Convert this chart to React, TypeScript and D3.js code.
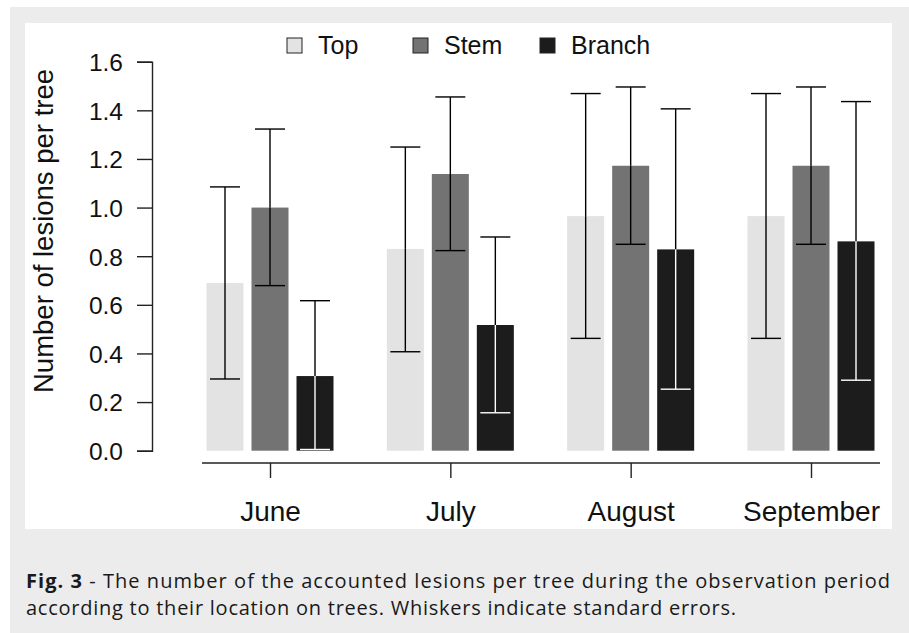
import React, { useEffect, useRef } from "react";
import * as d3 from "d3";

const months = ["June", "July", "August", "September"];
const series = ["Top", "Stem", "Branch"];
const seriesColors = ["#e3e3e3", "#737373", "#1c1c1c"];

// mean values per month
const topValues = [0.69, 0.83, 0.965, 0.965];
const stemValues = [1.0, 1.138, 1.172, 1.172];
const branchValues = [0.307, 0.517, 0.828, 0.861];

// whisker ends (upper / lower)
const topUpper = [1.085, 1.249, 1.469, 1.469];
const topLower = [0.295, 0.407, 0.462, 0.462];
const stemUpper = [1.323, 1.455, 1.496, 1.496];
const stemLower = [0.679, 0.823, 0.849, 0.849];
const branchUpper = [0.617, 0.879, 1.406, 1.436];
const branchLower = [0.005, 0.156, 0.253, 0.29];

const yTicks = [0, 0.2, 0.4, 0.6, 0.8, 1.0, 1.2, 1.4, 1.6];

const captionBold = "Fig. 3";
const captionLine1 = " - The number of the accounted lesions per tree during the observation period";
const captionLine2 = "according to their location on trees. Whiskers indicate standard errors.";

export default function App() {
  const svgRef = useRef<SVGSVGElement>(null);

  useEffect(() => {
    const width = 909;
    const height = 633;
    const svg = d3.select(svgRef.current).attr("width", width).attr("height", height);
    svg.selectAll("*").remove();

    const font = "'Liberation Sans', Arial, sans-serif";

    // frame
    svg.append("rect").attr("width", width).attr("height", height).attr("fill", "#ffffff");
    svg.append("rect").attr("x", 10).attr("y", 7).attr("width", 899).attr("height", 626).attr("fill", "#ececec");
    svg.append("rect").attr("x", 25).attr("y", 23).attr("width", 867).attr("height", 506).attr("fill", "#ffffff");

    const y = d3.scaleLinear().domain([0, 1.6]).range([450.7, 61.7]);
    const x = d3.scalePoint<string>().domain(months).range([270, 811]);
    const inner = d3
      .scaleBand<string>()
      .domain(series)
      .range([-67.5, 67.5])
      .paddingInner(8 / 45)
      .paddingOuter(4 / 45);

    const values = [topValues, stemValues, branchValues];
    const uppers = [topUpper, stemUpper, branchUpper];
    const lowers = [topLower, stemLower, branchLower];

    const rows = series.flatMap((s, si) =>
      months.map((m, mi) => ({
        s,
        si,
        m,
        v: values[si][mi],
        hi: uppers[si][mi],
        lo: lowers[si][mi],
      }))
    );

    const plot = svg.append("g");

    // bars
    plot
      .selectAll("rect.bar")
      .data(rows)
      .join("rect")
      .attr("class", "bar")
      .attr("x", (d) => (x(d.m) as number) + (inner(d.s) as number))
      .attr("y", (d) => y(d.v))
      .attr("width", inner.bandwidth())
      .attr("height", (d) => y(0) - y(d.v))
      .attr("fill", (d) => seriesColors[d.si]);

    // whiskers: black outside the bar, white where it crosses a dark bar
    const capHalf = 15;
    const cx = (d: any) => (x(d.m) as number) + (inner(d.s) as number) + inner.bandwidth() / 2;
    const whisk = plot.selectAll("g.whisk").data(rows).join("g").attr("class", "whisk");
    whisk.each(function (d) {
      const g = d3.select(this);
      const c = cx(d);
      const inside = d.si === 2 ? "#ffffff" : "#000000";
      const yTop = y(d.v);
      // part above bar top
      g.append("line")
        .attr("x1", c).attr("x2", c)
        .attr("y1", y(d.hi)).attr("y2", Math.min(yTop, y(d.lo)))
        .attr("stroke", "#000").attr("stroke-width", 1.4);
      // part inside bar
      if (y(d.lo) > yTop) {
        g.append("line")
          .attr("x1", c).attr("x2", c)
          .attr("y1", yTop).attr("y2", y(d.lo))
          .attr("stroke", inside).attr("stroke-width", 1.4);
      }
      g.append("line")
        .attr("x1", c - capHalf).attr("x2", c + capHalf)
        .attr("y1", y(d.hi)).attr("y2", y(d.hi))
        .attr("stroke", "#000").attr("stroke-width", 1.4);
      g.append("line")
        .attr("x1", c - capHalf).attr("x2", c + capHalf)
        .attr("y1", y(d.lo)).attr("y2", y(d.lo))
        .attr("stroke", y(d.lo) > yTop ? inside : "#000").attr("stroke-width", 1.4);
    });

    // y axis
    const yAxis = svg
      .append("g")
      .attr("transform", "translate(152,0)")
      .call(
        d3.axisLeft(y).tickValues(yTicks).tickFormat(d3.format(".1f")).tickSize(15).tickPadding(14)
      );
    yAxis.selectAll("path, line").attr("stroke", "#222").attr("stroke-width", 1.4);
    yAxis.selectAll("text").attr("font-family", font).attr("font-size", 24.5).attr("fill", "#111").attr("dy", "0.36em");

    // x axis
    const xAxis = svg
      .append("g")
      .attr("transform", "translate(0,463)")
      .call(d3.axisBottom(x).tickSize(15).tickPadding(23));
    xAxis.select(".domain").remove();
    xAxis.append("line").attr("x1", 202).attr("x2", 880).attr("stroke", "#222").attr("stroke-width", 1.4);
    xAxis.selectAll("line").attr("stroke", "#222").attr("stroke-width", 1.4);
    xAxis.selectAll("text").attr("font-family", font).attr("font-size", 28).attr("fill", "#111");

    // y title
    svg
      .append("text")
      .attr("transform", "translate(53,231) rotate(-90)")
      .attr("text-anchor", "middle")
      .attr("font-family", font)
      .attr("font-size", 27.5)
      .attr("fill", "#111")
      .text("Number of lesions per tree");

    // legend
    const legendX = [287, 413, 540];
    const legend = svg
      .selectAll("g.legend")
      .data(series)
      .join("g")
      .attr("class", "legend")
      .attr("transform", (d, i) => `translate(${legendX[i]},38)`);
    legend
      .append("rect")
      .attr("width", 15)
      .attr("height", 15)
      .attr("fill", (d, i) => seriesColors[i])
      .attr("stroke", "#222")
      .attr("stroke-width", 1);
    legend
      .append("text")
      .attr("x", 31)
      .attr("y", 15.5)
      .attr("font-family", font)
      .attr("font-size", 25)
      .attr("fill", "#111")
      .text((d) => d);

    // caption
    const capFont = "'Open Sans', 'Noto Sans', sans-serif";
    const cap1 = svg
      .append("text")
      .attr("x", 26)
      .attr("y", 588)
      .attr("font-family", capFont)
      .attr("font-size", 20)
      .attr("fill", "#1a1a1a")
      .attr("textLength", 864)
      .attr("lengthAdjust", "spacing");
    cap1.append("tspan").attr("font-weight", "bold").text(captionBold);
    cap1.append("tspan").text(captionLine1);
    svg
      .append("text")
      .attr("x", 26)
      .attr("y", 615)
      .attr("font-family", capFont)
      .attr("font-size", 20)
      .attr("fill", "#1a1a1a")
      .attr("textLength", 710)
      .attr("lengthAdjust", "spacing")
      .text(captionLine2);
  }, []);

  return <svg ref={svgRef} style={{ position: "absolute", left: 0, top: 0, display: "block" }}></svg>;
}
